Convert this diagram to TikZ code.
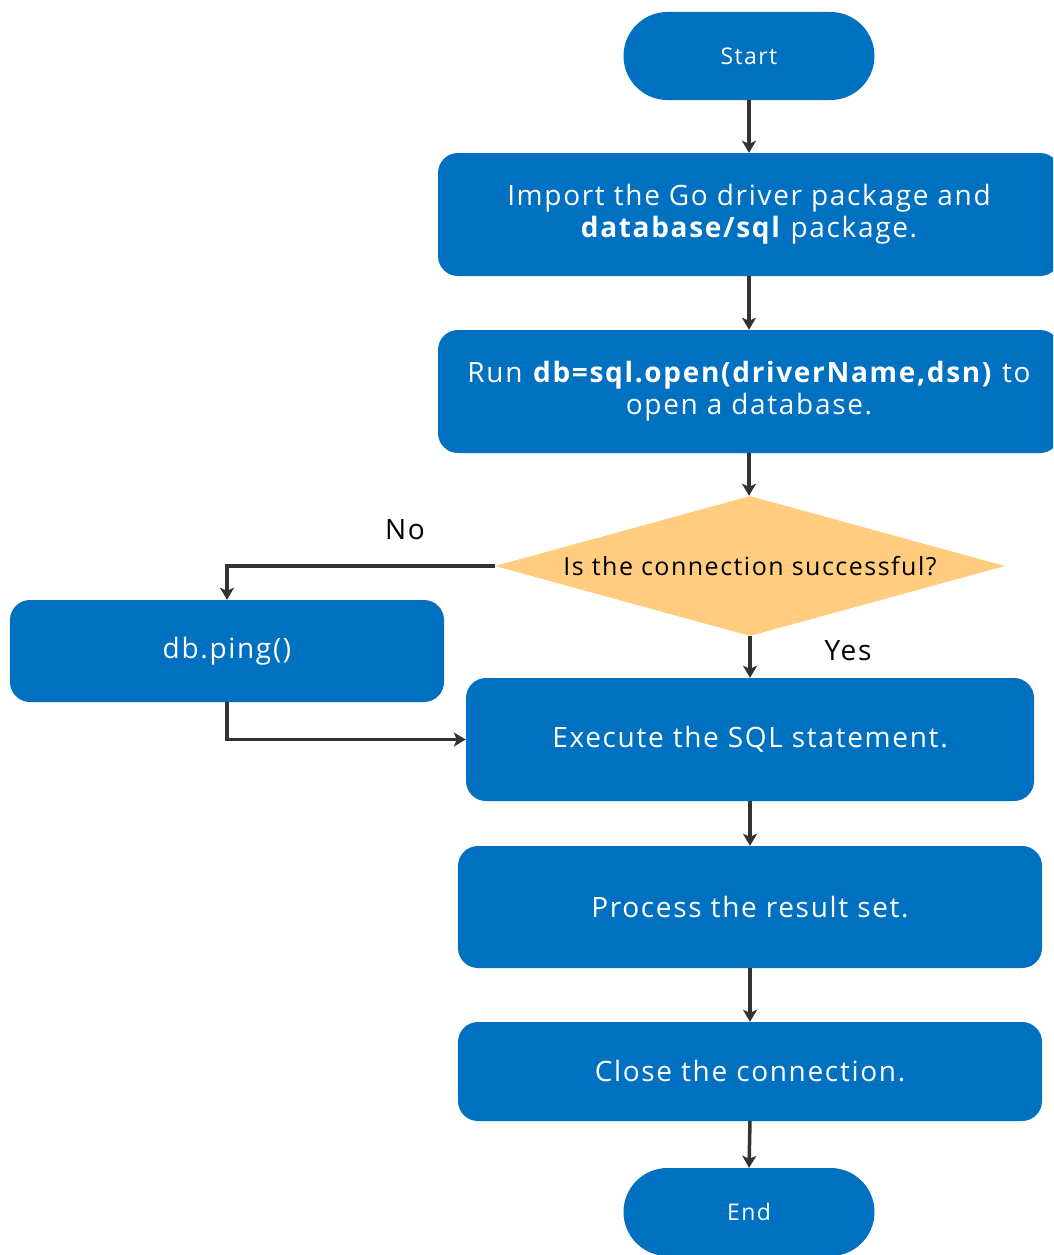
\documentclass[tikz,border=0pt]{standalone}
\usepackage{fontspec}
\setmainfont{Open Sans}[LetterSpace=6]
\usetikzlibrary{shapes.geometric,arrows.meta}
\definecolor{boxblue}{HTML}{0070C0}
\definecolor{diafill}{HTML}{FFCC80}
\definecolor{arrowgray}{HTML}{333333}
\tikzset{
  stepbox/.style={rectangle, rounded corners=20pt, fill=boxblue, text=white, align=center, inner sep=0pt, font=\fontsize{28}{32}\selectfont},
  terminal/.style={rectangle, rounded corners=44pt, fill=boxblue, text=white, minimum width=251pt, minimum height=88pt, inner sep=0pt, font=\fontsize{23}{26}\selectfont},
  decision/.style={diamond, fill=diafill, aspect=3.64, inner sep=0pt, minimum width=510pt, minimum height=140pt, font=\fontsize{25}{28}\selectfont},
  flow/.style={draw=arrowgray, line width=3.5pt, -{Stealth[length=12pt,width=14pt,inset=3pt]}},
  lbl/.style={font=\fontsize{28}{30}\selectfont, text=black, inner sep=0pt}
}
\begin{document}
\begin{tikzpicture}[x=1pt,y=-1pt]
\clip (0,0) rectangle (1053,1255);
\useasboundingbox (0,0) rectangle (1053,1255);
\fill[white] (0,0) rectangle (1053,1255);
\node[terminal] (start) at (749,56) {Start};
\node[stepbox, minimum width=622pt, minimum height=123pt] (imp) at (749,214.5) {Import the Go driver package and\\\textbf{database/sql} package.};
\node[stepbox, minimum width=622pt, minimum height=123pt] (run) at (749,391.5) {Run \textbf{db=sql.open(driverName,dsn)} to\\open a database.};
\node[decision] (dec) at (750,566) {Is the connection successful?};
\node[stepbox, minimum width=434pt, minimum height=102pt] (ping) at (227,651) {db.ping()};
\node[stepbox, minimum width=568pt, minimum height=123pt] (exec) at (750,739.5) {Execute the SQL statement.};
\node[stepbox, minimum width=584pt, minimum height=122pt] (proc) at (750,907) {Process the result set.};
\node[stepbox, minimum width=584pt, minimum height=99pt] (close) at (750,1071.5) {Close the connection.};
\node[terminal] (end) at (749,1212) {End};
\node[lbl] (no) at (405,530) {No};
\node[lbl] (yes) at (848,651) {Yes};
\draw[flow] (start.south) -- (imp.north -| start.south);
\draw[flow] (imp.south) -- (run.north);
\draw[flow] (run.south) -- (run.south |- dec.north);
\draw[flow] (dec.south) -- (exec.north);
\draw[flow] (dec.west) -| (ping.north);
\draw[flow] (ping.south) |- (exec.west);
\draw[flow] (exec.south) -- (proc.north);
\draw[flow] (proc.south) -- (close.north);
\draw[flow] (close.south) -- (end.north);
\end{tikzpicture}
\end{document}
